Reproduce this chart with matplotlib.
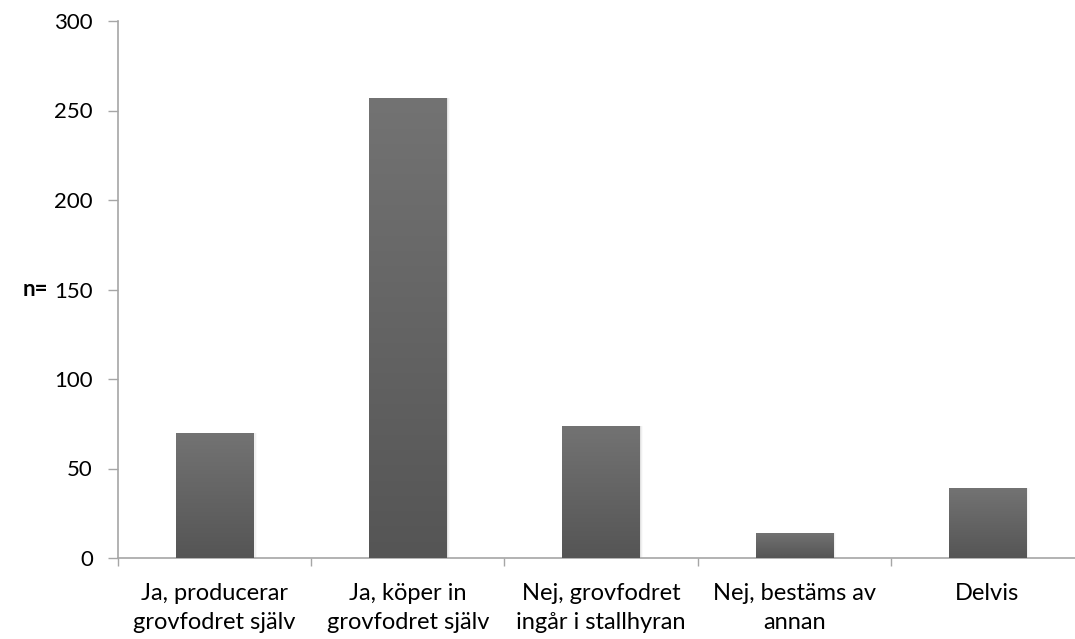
import numpy as np
import matplotlib
matplotlib.use("Agg")
import matplotlib.pyplot as plt
from matplotlib.colors import LinearSegmentedColormap
from matplotlib.ticker import FixedLocator, NullFormatter

categories = [
    "Ja, producerar\ngrovfodret själv",
    "Ja, köper in\ngrovfodret själv",
    "Nej, grovfodret\ningår i stallhyran",
    "Nej, bestäms av\nannan",
    "Delvis",
]
counts = [70, 257, 74, 14, 39]
y_ticks = [0, 50, 100, 150, 200, 250, 300]
y_label = "n="

plt.rcParams["font.family"] = ["Lato", "DejaVu Sans"]

fig = plt.figure(figsize=(10.75, 6.39), dpi=100)
ax = fig.add_axes([118 / 1075, 1 - 558 / 639, 966 / 1075, 537 / 639])

x = np.arange(len(categories))
bars = ax.bar(x, counts, width=0.4, color="#6a6a6a", zorder=2)

# vertical grey gradient inside each bar: lighter on top, darker at the base
grad_cmap = LinearSegmentedColormap.from_list("bar_grad", ["#555555", "#737373"])
gradient = np.linspace(0, 1, 256).reshape(-1, 1)
for rect in bars:
    x0, w, h = rect.get_x(), rect.get_width(), rect.get_height()
    # soft shadow to the right of the bar
    for i, a in enumerate([0.06, 0.04, 0.02]):
        ax.bar(x0 + w / 2 + 0.006 * (i + 1), h, width=w, color="black",
               alpha=a, zorder=1, linewidth=0)
    im = ax.imshow(gradient, cmap=grad_cmap, origin="lower", aspect="auto",
                   extent=(x0, x0 + w, 0, h), zorder=3)
    im.set_clip_path(rect)

ax.set_xlim(-0.5, len(categories) - 0.5)
ax.set_ylim(0, 300)
ax.set_yticks(y_ticks)
ax.set_yticklabels([str(v) for v in y_ticks])

# category labels centred, tick marks at the category boundaries
ax.xaxis.set_major_locator(FixedLocator(np.arange(len(categories) + 1) - 0.5))
ax.xaxis.set_major_formatter(NullFormatter())
ax.xaxis.set_minor_locator(FixedLocator(x))
ax.set_xticklabels(categories, minor=True, linespacing=1.45)
ax.tick_params(axis="x", which="minor", length=0, pad=18, labelsize=17,
               labelcolor="black")
ax.tick_params(axis="x", which="major", length=6, width=1, color="#a6a6a6",
               direction="out")
ax.tick_params(axis="y", length=7, width=1, color="#a6a6a6", pad=11,
               labelsize=16, labelcolor="black", direction="out")

for side in ("top", "right"):
    ax.spines[side].set_visible(False)
for side in ("left", "bottom"):
    ax.spines[side].set_color("#a6a6a6")
    ax.spines[side].set_linewidth(1.2)

ax.set_ylabel(y_label, rotation=0, fontsize=16, fontweight="bold",
              ha="center", va="center")
ax.yaxis.set_label_coords((35 - 118) / 966, 0.5)

ax.set_xlim(-0.5, len(categories) - 0.5)
fig.savefig("out.png", dpi=100)
